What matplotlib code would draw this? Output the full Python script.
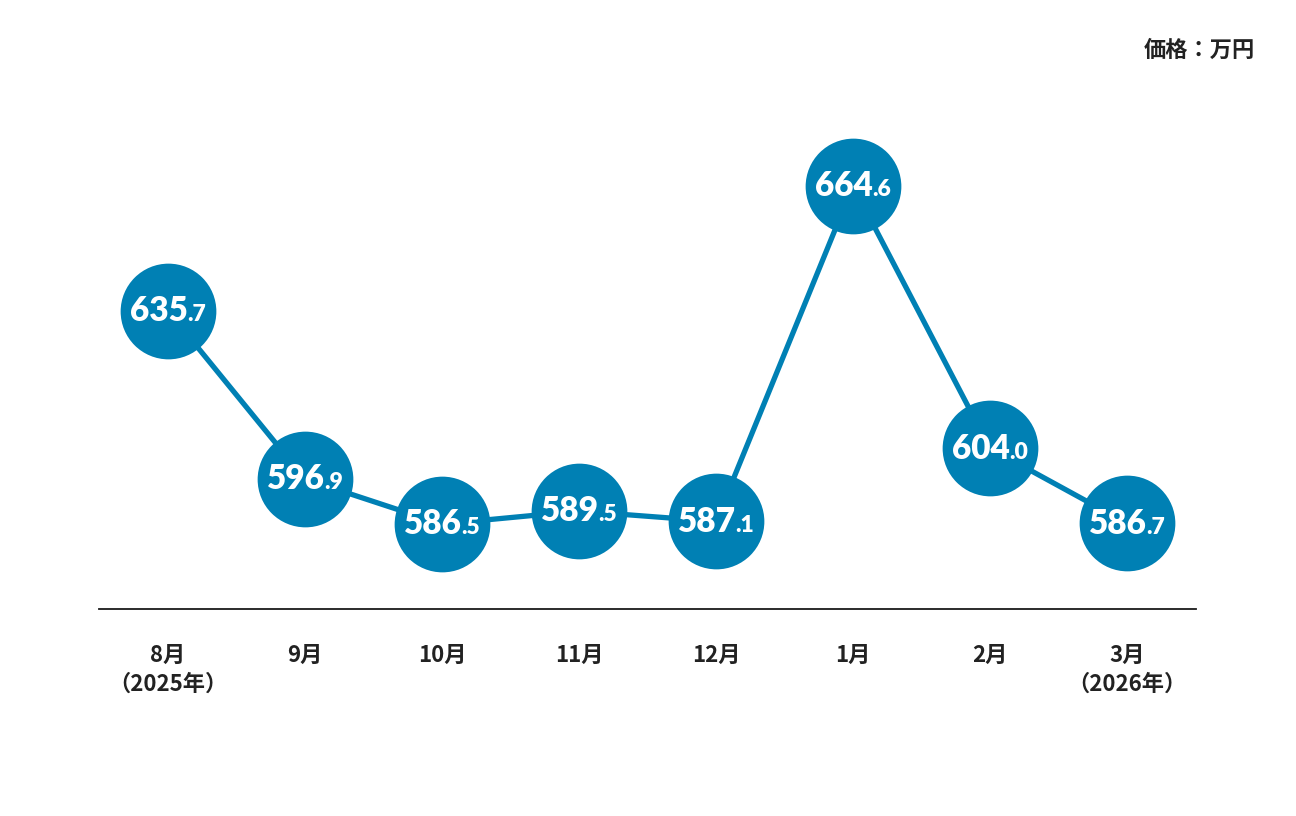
import matplotlib.pyplot as plt

months = ['8月\n（2025年）', '9月', '10月', '11月', '12月', '1月', '2月', '3月\n（2026年）']
prices = [635.7, 596.9, 586.5, 589.5, 587.1, 664.6, 604.0, 586.7]
unit_label = '価格：万円'

blue = '#0080b4'
cjk = ['Noto Sans CJK JP', 'DejaVu Sans']

fig = plt.figure(figsize=(12.96, 8.16), dpi=100)
ax = fig.add_axes([0, 0, 1, 1])
ax.set_xlim(-168 / 137, (1296 - 168) / 137)
ax.set_ylim(519.1, 707.5)
ax.axis('off')

x = list(range(len(prices)))
base = 566.9

ax.plot(x, prices, color=blue, lw=3.8, zorder=2, solid_capstyle='butt')
ax.scatter(x, prices, s=4750, color=blue, zorder=3, linewidths=0)
ax.plot([-0.505, 7.505], [base, base], color='#1a1a1a', lw=1.3, zorder=1)

fig.canvas.draw()
r = fig.canvas.get_renderer()
for i, v in enumerate(prices):
    s = '%.1f' % v
    a, b = s.split('.')
    t1 = ax.annotate(a, (i, v), xytext=(0, -7.5), textcoords='offset points',
                     ha='right', va='baseline', color='white', fontsize=24,
                     fontfamily='Lato', fontweight='heavy', zorder=4)
    t2 = ax.annotate('.' + b, (i, v), xytext=(0, -7.5), textcoords='offset points',
                     ha='left', va='baseline', color='white', fontsize=16.5,
                     fontfamily='Lato', fontweight='heavy', zorder=4)
    w1 = t1.get_window_extent(r).width
    w2 = t2.get_window_extent(r).width
    dx = (w1 - w2) / 2 * 72 / fig.dpi
    t1.set_position((dx, -7.5))
    t2.set_position((dx, -7.5))

for i, m in enumerate(months):
    ax.annotate(m, (i, base), xytext=(0, -25.5), textcoords='offset points',
                ha='center', va='top', fontsize=16, fontweight='bold',
                family=cjk, color='#222222', linespacing=1.3)

fig.text(1255 / 1296, 1 - 50 / 816, unit_label, ha='right', va='center',
         fontsize=16, fontweight='bold', family=cjk, color='#222222')

fig.savefig('out.png', dpi=100)
